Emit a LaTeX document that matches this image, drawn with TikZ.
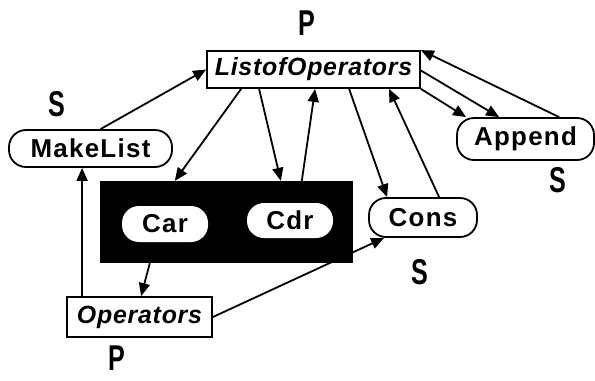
\documentclass[tikz,border=0pt]{standalone}
\usepackage{fontspec}
\usetikzlibrary{arrows.meta}
\newfontfamily\tagfont{Liberation Sans}[LetterSpace=5]
\newfontfamily\setfont{Liberation Sans}[LetterSpace=3]
\newfontfamily\letterfont{Liberation Sans}[FakeStretch=0.7]

\begin{document}
\begin{tikzpicture}[x=1bp,y=-1bp,
  box/.style={draw,line width=1.8bp,inner sep=0pt},
  setbox/.style={box,font={\setfont\bfseries\itshape\fontsize{25}{25}\selectfont}},
  tag/.style={box,rounded corners=17bp,fill=white,font={\tagfont\bfseries\fontsize{26}{26}\selectfont}},
  letter/.style={inner sep=1bp,font={\letterfont\bfseries\fontsize{36}{36}\selectfont}},
  link/.style={line width=1.8bp,-{Triangle[length=13bp,width=11bp]}}]
\useasboundingbox (0,0) rectangle (595,380);

\node[setbox,minimum width=213bp,minimum height=37bp] (list) at (313.5,69.5) {ListofOperators};
\node[setbox,minimum width=145bp,minimum height=40bp] (ops) at (139.5,317) {Operators};
\node[tag,minimum width=163bp,minimum height=37bp] (makelist) at (90.5,148.5) {MakeList};
\node[tag,minimum width=137bp,minimum height=42bp] (append) at (525.5,139) {Append};
\node[tag,minimum width=108bp,minimum height=39bp] (cons) at (423,217.5) {Cons};

\node[fill=black,inner sep=0pt,minimum width=253bp,minimum height=82bp] (blk) at (226.5,222) {};
\node[tag,draw=none,minimum width=86bp,minimum height=36bp] (car) at (165,224) {Car};
\node[tag,draw=none,minimum width=86bp,minimum height=35bp] (cdr) at (290,220.5) {Cdr};

\node[letter] (p1) at (307,23) {P};
\node[letter] (s1) at (57,104) {S};
\node[letter] (s2) at (558,180) {S};
\node[letter] (s3) at (420,272) {S};
\node[letter] (p2) at (117,358) {P};

\draw[link] ([xshift=10bp]makelist.north) -- (list.west);
\draw[link] ([xshift=16bp]ops.north west) -- ([xshift=16bp]ops.north west |- makelist.south);
\draw[link] ([xshift=35bp]list.south west) -- ([xshift=75bp]blk.north west);
\draw[link] ([xshift=53bp]list.south west) -- ([xshift=181bp]blk.north west);
\draw[link] ([xshift=202bp]blk.north west) -- ([xshift=109bp]list.south west);
\draw[link] ([xshift=143bp]list.south west) -- ([xshift=19bp]cons.north west);
\draw[link] ([xshift=71bp]cons.north west) -- ([xshift=183bp]list.south west);
\draw[link] ([yshift=-1bp]list.east) -- ([xshift=43bp]append.north west);
\draw[link] (list.south east) -- ([xshift=10bp]append.north west);
\draw[link] ([xshift=103bp]append.north west) -- (list.north east);
\draw[link] (ops.east) -- ([xshift=16bp]cons.south west);
\draw[link] ([xshift=50bp]blk.south west) -- ([xshift=75bp]ops.north west);

\end{tikzpicture}
\end{document}
